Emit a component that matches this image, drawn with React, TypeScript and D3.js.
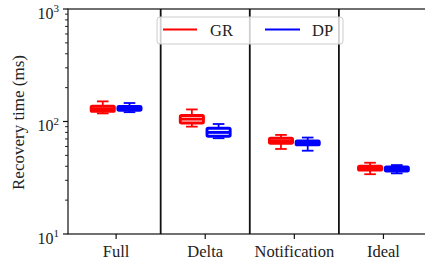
import React from "react";
import * as d3 from "d3";

// five-number summaries per category: [whisker low, q1, median, q3, whisker high]
const categories = ["Full", "Delta", "Notification", "Ideal"];
const grStats = [
  [118, 123, 130, 137, 151],
  [90, 97, 105, 113, 128],
  [57, 64, 67, 71, 76],
  [34, 37, 38.6, 40, 43],
];
const dpStats = [
  [121, 126, 131, 136, 146],
  [71, 74, 80, 87, 95],
  [55, 62, 64, 67, 72],
  [34.6, 36.3, 37.8, 39.4, 41],
];
const yMajorTicks = [10, 100, 1000];
const yTickExp = ["1", "2", "3"];

const W = 425;
const H = 265;
const FONT = "'Liberation Serif', 'DejaVu Serif', serif";

const App = () => {
  const x = d3.scaleLinear().domain([0.46, 4.5]).range([68, 428]);
  const y = d3.scaleLog().domain([10, 1000]).range([234, 9]);
  const minor = y.ticks().filter((t) => !yMajorTicks.includes(t));

  const boxW = x(0.26) - x(0);
  const capW = boxW / 2;

  const drawBox = (s: number[], cx: number, color: string, key: string) => {
    const [lo, q1, med, q3, hi] = s;
    return (
      <g key={key} stroke={color} fill="none">
        <g strokeWidth={1.8}>
          <line x1={cx} x2={cx} y1={y(q3)} y2={y(hi)} />
          <line x1={cx} x2={cx} y1={y(q1)} y2={y(lo)} />
          <line x1={cx - capW / 2} x2={cx + capW / 2} y1={y(hi)} y2={y(hi)} />
          <line x1={cx - capW / 2} x2={cx + capW / 2} y1={y(lo)} y2={y(lo)} />
        </g>
        <g strokeWidth={2.9}>
          <rect x={cx - boxW / 2} y={y(q3)} width={boxW} height={y(q1) - y(q3)} rx={1.2} />
          <line x1={cx - boxW / 2} x2={cx + boxW / 2} y1={y(med)} y2={y(med)} />
        </g>
      </g>
    );
  };

  return (
    <svg
      width={W}
      height={H}
      style={{ position: "fixed", left: 0, top: 0, background: "white" }}
      fontFamily={FONT}
    >
      {/* boxes */}
      {categories.map((c, i) => (
        <g key={c}>
          {drawBox(grStats[i], x(i + 1 - 0.15), "#ff0000", c + "gr")}
          {drawBox(dpStats[i], x(i + 1 + 0.15), "#0000ff", c + "dp")}
        </g>
      ))}

      {/* dividers */}
      {categories.slice(1).map((c, i) => (
        <line
          key={"div" + c}
          x1={x(i + 1.5)}
          x2={x(i + 1.5)}
          y1={y(1000)}
          y2={y(10)}
          stroke="#111"
          strokeWidth={1.8}
        />
      ))}

      {/* spines */}
      <rect
        x={x(0.46)}
        y={y(1000)}
        width={x(4.5) - x(0.46)}
        height={y(10) - y(1000)}
        fill="none"
        stroke="#111"
        strokeWidth={1.2}
      />

      {/* y ticks */}
      {minor.map((t) => (
        <line key={"m" + t} x1={68 - 3} x2={68} y1={y(t)} y2={y(t)} stroke="#111" strokeWidth={0.9} />
      ))}
      {yMajorTicks.map((t, i) => (
        <g key={"M" + t}>
          <line x1={68 - 5} x2={68} y1={y(t)} y2={y(t)} stroke="#111" strokeWidth={1.2} />
          <text x={59} y={y(t) + 9.5} textAnchor="end" fontSize={16} fill="#222">
            10
            <tspan fontSize={11} dy={-6.5}>
              {yTickExp[i]}
            </tspan>
          </text>
        </g>
      ))}

      {/* x ticks */}
      {categories.map((c, i) => (
        <g key={"x" + c}>
          <line x1={x(i + 1)} x2={x(i + 1)} y1={234} y2={239} stroke="#111" strokeWidth={1.2} />
          <text x={x(i + 1)} y={256.5} textAnchor="middle" fontSize={16.5} fill="#222">
            {c}
          </text>
        </g>
      ))}

      <text
        transform={`translate(24, ${(y(10) + y(1000)) / 2 + 1}) rotate(-90)`}
        textAnchor="middle"
        fontSize={17}
        fill="#222"
      >
        Recovery time (ms)
      </text>

      {/* legend */}
      <g>
        <rect x={157} y={17} width={186} height={27} rx={3} fill="white" fillOpacity={0.8} stroke="#cccccc" strokeWidth={1} />
        <line x1={163} x2={197} y1={29.5} y2={29.5} stroke="#ff0000" strokeWidth={2} />
        <text x={210} y={36} fontSize={16.5} fill="#222">GR</text>
        <line x1={265} x2={300} y1={29.5} y2={29.5} stroke="#0000ff" strokeWidth={2} />
        <text x={312} y={36} fontSize={16.5} fill="#222">DP</text>
      </g>
    </svg>
  );
};

export default App;
